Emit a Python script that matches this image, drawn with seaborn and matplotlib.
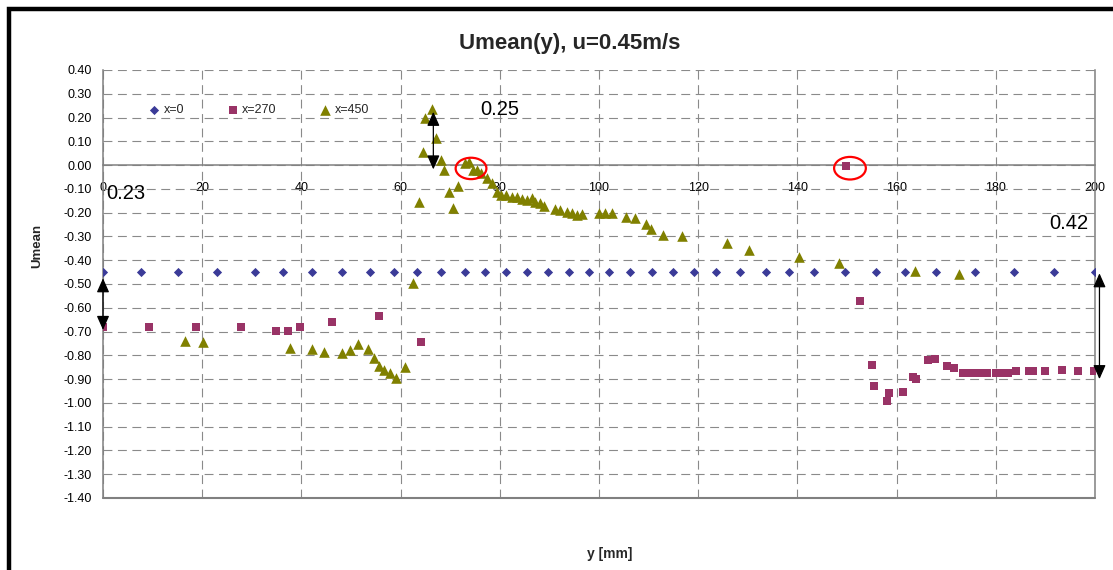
import matplotlib
matplotlib.use("Agg")
import matplotlib.pyplot as plt
import seaborn as sns
import pandas as pd
from matplotlib.patches import Ellipse, Rectangle

sns.set_theme(style="white")
plt.rcParams["font.family"] = ["Liberation Sans", "DejaVu Sans"]

# Mean velocity profiles Umean(y) at three stations
y_x0 = [0.0, 7.7, 15.1, 23.0, 30.6, 36.3, 42.2, 48.1, 53.8, 58.7, 63.4, 68.1,
        72.9, 77.0, 81.2, 85.5, 89.7, 94.0, 98.0, 102.1, 106.3, 110.6, 115.0,
        119.1, 123.5, 128.4, 133.6, 138.4, 143.3, 149.5, 155.8, 161.7, 167.9,
        175.9, 183.7, 191.8, 200.0]
u_x0 = [-0.45, -0.45, -0.45, -0.45, -0.45, -0.45, -0.45, -0.45, -0.45, -0.45,
        -0.45, -0.45, -0.45, -0.45, -0.45, -0.45, -0.45, -0.45, -0.45, -0.45,
        -0.45, -0.45, -0.45, -0.45, -0.45, -0.45, -0.45, -0.45, -0.45, -0.45,
        -0.45, -0.45, -0.45, -0.45, -0.45, -0.45, -0.45]

y_x270 = [0.0, 9.3, 18.8, 27.8, 34.8, 37.2, 39.7, 46.1, 55.6, 64.1, 149.7,
          152.6, 155.1, 155.5, 158.0, 158.5, 161.2, 163.4, 163.9, 166.4, 167.8,
          170.2, 171.6, 173.4, 174.6, 175.8, 177.0, 178.2, 180.0, 181.3, 182.5,
          184.1, 186.6, 187.6, 189.9, 193.3, 196.5, 199.7]
u_x270 = [-0.68, -0.68, -0.682, -0.68, -0.696, -0.696, -0.682, -0.66, -0.634,
          -0.744, -0.005, -0.571, -0.84, -0.93, -0.99, -0.96, -0.955, -0.892,
          -0.90, -0.821, -0.815, -0.846, -0.854, -0.875, -0.875, -0.875, -0.875,
          -0.875, -0.874, -0.874, -0.874, -0.867, -0.867, -0.867, -0.867,
          -0.862, -0.866, -0.866]

y_x450 = [16.5, 20.2, 37.7, 42.1, 44.6, 48.1, 49.7, 51.5, 53.5, 54.7, 55.7,
          56.6, 57.9, 59.0, 60.9, 62.6, 63.7, 64.5, 65.0, 66.3, 67.1, 68.1,
          68.8, 69.8, 70.5, 71.6, 73.0, 73.7, 74.5, 75.5, 76.3, 77.5, 78.4,
          79.4, 80.2, 81.3, 82.4, 83.4, 84.4, 85.4, 86.4, 87.1, 88.1, 88.9,
          91.1, 92.1, 93.5, 94.5, 95.5, 96.5, 99.9, 101.2, 102.6, 105.5, 107.3,
          109.4, 110.5, 112.9, 116.8, 125.9, 130.3, 140.3, 148.3, 163.8, 172.6]
u_x450 = [-0.74, -0.744, -0.769, -0.773, -0.786, -0.791, -0.777, -0.752,
          -0.774, -0.811, -0.843, -0.861, -0.873, -0.895, -0.85, -0.494,
          -0.154, 0.056, 0.20, 0.236, 0.116, 0.021, -0.021, -0.112, -0.182,
          -0.088, 0.007, 0.014, -0.021, -0.021, -0.035, -0.056, -0.077, -0.112,
          -0.126, -0.126, -0.133, -0.136, -0.144, -0.147, -0.140, -0.154,
          -0.161, -0.171, -0.185, -0.189, -0.196, -0.200, -0.210, -0.206,
          -0.203, -0.203, -0.203, -0.217, -0.221, -0.247, -0.270, -0.292,
          -0.298, -0.329, -0.357, -0.385, -0.410, -0.445, -0.459]

series_names = ["x=0", "x=270", "x=450"]
series_colors = ["#3B3B98", "#993366", "#808000"]
series_markers = ["D", "s", "^"]
series_sizes = [22, 34, 58]

x_ticks = [0, 20, 40, 60, 80, 100, 120, 140, 160, 180, 200]
y_ticks = [0.40, 0.30, 0.20, 0.10, 0.00, -0.10, -0.20, -0.30, -0.40, -0.50,
           -0.60, -0.70, -0.80, -0.90, -1.00, -1.10, -1.20, -1.30, -1.40]

# Velocity differences marked on the profiles
diff_labels = ["0.23", "0.25", "0.42"]

frames = []
for name, ys, us in [("x=0", y_x0, u_x0), ("x=270", y_x270, u_x270),
                     ("x=450", y_x450, u_x450)]:
    frames.append(pd.DataFrame({"y": ys, "u": us, "station": name}))
df = pd.concat(frames, ignore_index=True)

fig = plt.figure(figsize=(11.13, 5.70), dpi=100)
fig.patch.set_facecolor("white")
ax = fig.add_axes([103 / 1113, 1 - 498 / 570, 992 / 1113, 428 / 570])

grey = "#808080"
for name, col, mk, sz in zip(series_names, series_colors, series_markers, series_sizes):
    sub = df[df["station"] == name]
    sns.scatterplot(data=sub, x="y", y="u", marker=mk, s=sz, color=col,
                    linewidth=0, label=name, ax=ax, zorder=3)

ax.set_xlim(0, 200)
ax.set_ylim(-1.4, 0.4)
ax.set_xticks(x_ticks)
ax.set_yticks(y_ticks)
ax.set_yticklabels([f"{v:.2f}" for v in y_ticks])
ax.set_xticklabels([str(v) for v in x_ticks])

ax.set_axisbelow(True)
ax.grid(True, color="#8a8a8a", linestyle=(0, (8, 5)), linewidth=0.8)

ax.spines["top"].set_visible(False)
ax.spines["bottom"].set_position(("data", 0))
for s in ["bottom", "left", "right"]:
    ax.spines[s].set_color(grey)
    ax.spines[s].set_linewidth(1.1)
ax.axhline(-1.4, color=grey, linewidth=1.5, clip_on=False, zorder=2)

ax.tick_params(axis="x", length=0, pad=12, labelsize=9, colors="black")
ax.tick_params(axis="y", length=0, pad=8, labelsize=9, colors="black")

ax.set_xlabel("y [mm]", fontsize=10, fontweight="bold")
ax.set_ylabel("Umean", fontsize=9.5, fontweight="bold")
ax.xaxis.set_label_coords(0.511, -0.114)
ax.yaxis.set_label_coords(-0.0605, 0.59)

ax.legend(loc="center left", bbox_to_anchor=(0.034, 0.907), ncol=3,
          frameon=False, fontsize=9, handletextpad=0.25, columnspacing=3.4,
          handlelength=1.0, borderpad=0.4)

# Double-headed arrows marking the velocity differences
arrow_x = [0.0, 66.6, 200.9]
arrow_lo = [-0.693, -0.018, -0.90]
arrow_hi = [-0.476, 0.224, -0.455]
label_xy = [(4.6, -0.118), (80.0, 0.235), (194.7, -0.245)]
for ax_x, lo, hi, txt, (tx, ty) in zip(arrow_x, arrow_lo, arrow_hi, diff_labels, label_xy):
    ax.annotate("", xy=(ax_x, hi), xytext=(ax_x, lo),
                arrowprops=dict(arrowstyle="<|-|>,head_length=0.45,head_width=0.2",
                                color="black", lw=0.9, mutation_scale=19,
                                shrinkA=0, shrinkB=0),
                annotation_clip=False, zorder=5)
    ax.text(tx, ty, txt, fontsize=14.5, ha="center", va="center", color="black",
            zorder=6)

# Highlighted points
ax.add_patch(Ellipse((74.2, -0.014), 6.2, 0.09, fill=False, edgecolor="red",
                     linewidth=1.6, zorder=6))
ax.add_patch(Ellipse((150.6, -0.013), 6.4, 0.095, fill=False, edgecolor="red",
                     linewidth=1.6, zorder=6))

fig.text(569.5 / 1113, 1 - 44 / 570, "Umean(y), u=0.45m/s", ha="center",
         va="center", fontsize=16, fontweight="bold")

# Outer chart frame
fig.patches.append(Rectangle((9 / 1113, -0.2), 1.3, 1.2 - 9 / 570,
                             transform=fig.transFigure, fill=False,
                             edgecolor="black", linewidth=3.2))

fig.savefig("out.png", dpi=100, facecolor="white")
